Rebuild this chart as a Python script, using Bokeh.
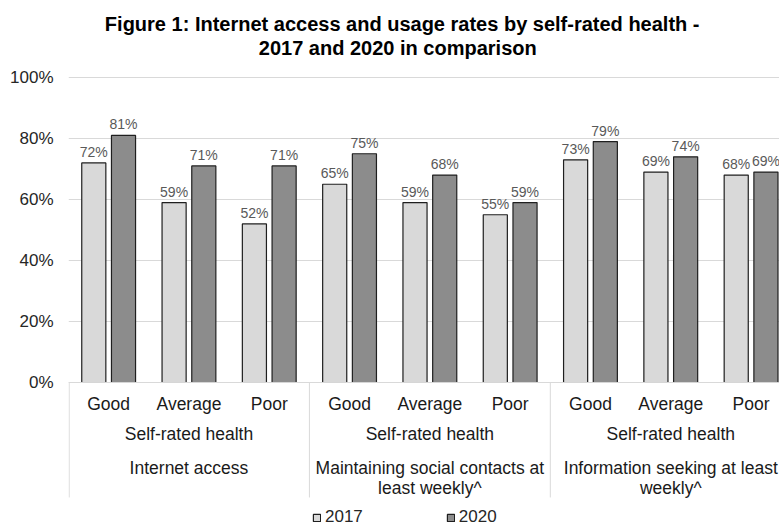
import numpy as np
from bokeh.plotting import figure
from bokeh.models import ColumnDataSource, FixedTicker, Legend, LegendItem
from bokeh.core.properties import value
from bokeh.embed import file_html
from bokeh.resources import INLINE

# ---- data ----
health = ["Good", "Average", "Poor"]
subgroup_label = "Self-rated health"
groups_line1 = ["Internet access", "Maintaining social contacts at", "Information seeking at least"]
groups_line2 = ["", "least weekly^", "weekly^"]
years = ["2017", "2020"]
v2017 = [72, 59, 52, 65, 59, 55, 73, 69, 68]
v2020 = [81, 71, 71, 75, 68, 59, 79, 74, 69]
y_ticks = [0, 20, 40, 60, 80, 100]
title_lines = ["Figure 1: Internet access and usage rates by  self-rated health -",
               "2017 and 2020 in comparison"]

FONT = "Liberation Sans"
n_cat = len(v2017)
n_grp = len(groups_line1)
per_grp = len(health)

centers = np.arange(n_cat) + 0.5
off = 0.185
bw = 0.3

p = figure(width=779, height=529, output_backend="svg", toolbar_location=None,
           x_range=(0, 8.854), y_range=(-48.2, 125.25), x_axis_type=None,
           min_border_left=68, min_border_right=0, min_border_top=0, min_border_bottom=0)
p.outline_line_color = None
p.background_fill_color = "white"
p.border_fill_color = "white"
p.xgrid.visible = False
p.ygrid.ticker = FixedTicker(ticks=y_ticks)
p.ygrid.grid_line_color = "#d9d9d9"
p.ygrid.grid_line_width = 1

ax = p.yaxis[0]
ax.ticker = FixedTicker(ticks=y_ticks)
ax.major_label_overrides = {t: f"{t}%" for t in y_ticks}
ax.axis_line_color = None
ax.major_tick_line_color = None
ax.minor_tick_line_color = None
ax.major_tick_out = 0
ax.major_tick_in = 0
ax.major_label_standoff = 15
ax.major_label_text_font = FONT
ax.major_label_text_font_size = "17px"
ax.major_label_text_color = "#262626"

# bars
s17 = ColumnDataSource(dict(x=centers - off, top=v2017, lbl=[f"{v}%" for v in v2017]))
s20 = ColumnDataSource(dict(x=centers + off, top=v2020, lbl=[f"{v}%" for v in v2020]))
r17 = p.vbar(x="x", top="top", width=bw, source=s17, fill_color="#d9d9d9",
             line_color="#1f1f1f", line_width=1.2)
r20 = p.vbar(x="x", top="top", width=bw, source=s20, fill_color="#8c8c8c",
             line_color="#1f1f1f", line_width=1.2)
for s in (s17, s20):
    p.text(x="x", y="top", text="lbl", source=s, text_align="center",
           text_baseline="alphabetic", y_offset=-11, text_font=value(FONT),
           text_font_size="14px", text_color="#595959")

# category axis (drawn manually, multi-level)
p.segment(x0=[0], y0=[0], x1=[n_cat], y1=[0], line_color="#d9d9d9", line_width=1)
sep_x = [g * per_grp for g in range(n_grp + 1)]
sep_x[0] = 0.008
p.segment(x0=sep_x, y0=[0] * len(sep_x), x1=sep_x, y1=[-37.7] * len(sep_x),
          line_color="#d9d9d9", line_width=1)

p.text(x=list(centers), y=[-7.05] * n_cat, text=health * n_grp, text_align="center",
       text_baseline="middle", text_font=value(FONT), text_font_size="17.5px",
       text_color="#1a1a1a")
grp_centers = [g * per_grp + per_grp / 2 for g in range(n_grp)]
p.text(x=grp_centers, y=[-17.05] * n_grp, text=[subgroup_label] * n_grp, text_align="center",
       text_baseline="middle", text_font=value(FONT), text_font_size="17.5px",
       text_color="#1a1a1a")
p.text(x=grp_centers, y=[-27.9] * n_grp, text=groups_line1, text_align="center",
       text_baseline="middle", text_font=value(FONT), text_font_size="17.5px",
       text_color="#1a1a1a")
p.text(x=grp_centers, y=[-34.75] * n_grp, text=groups_line2, text_align="center",
       text_baseline="middle", text_font=value(FONT), text_font_size="17.5px",
       text_color="#1a1a1a")

# title
p.text(x=[4.19, 4.10], y=[117.55, 109.68], text=title_lines, text_align="center",
       text_baseline="middle", text_font=value(FONT), text_font_size="20px",
       text_font_style="bold", text_color="#000000")

legend = Legend(items=[LegendItem(label=years[0], renderers=[r17]),
                       LegendItem(label=years[1], renderers=[r20])],
                location=(244, 2), orientation="horizontal", spacing=83,
                glyph_width=9, glyph_height=9, label_standoff=4, padding=0, margin=0,
                border_line_color=None, background_fill_alpha=0,
                label_text_font=FONT, label_text_font_size="17px",
                label_text_color="#262626")
p.add_layout(legend)

open("out.html", "w").write(file_html(p, INLINE))
